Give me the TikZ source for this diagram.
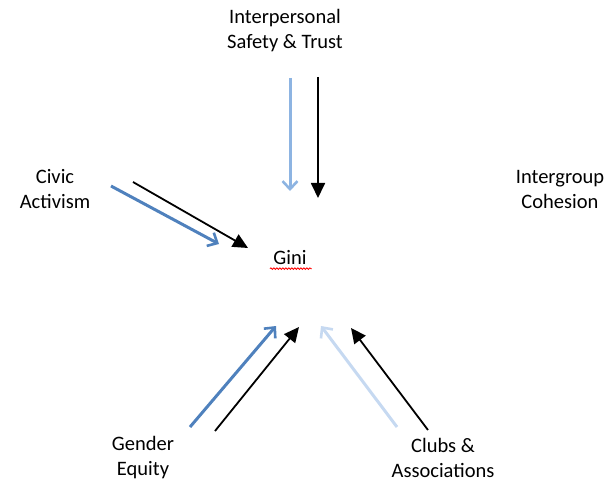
\documentclass[tikz,border=0pt]{standalone}
\usepackage{fontspec}
\setmainfont{Carlito}
\usetikzlibrary{arrows.meta, decorations.pathmorphing}

\definecolor{steelblue}{RGB}{79,129,189}
\definecolor{paleblue}{RGB}{141,180,226}
\definecolor{faintblue}{RGB}{198,217,241}

\begin{document}
\begin{tikzpicture}[x=1pt,y=-1pt,
  label node/.style={align=center,font=\fontsize{20.5}{25}\selectfont},
  dark arrow/.style={-{Triangle[length=15pt,width=14pt]},line width=1.8pt,black},
  soft arrow/.style={-{Straight Barb[length=8pt,width=15pt,line width=2.6pt]},line width=3pt}]
  \useasboundingbox (0,0) rectangle (608,484);
  % factors round the centre
  \node[label node] (trust) at (285,31) {Interpersonal\\Safety \& Trust};
  \node[label node] (civic) at (55,189) {Civic\\Activism};
  \node[label node] (cohesion) at (560,189) {Intergroup\\Cohesion};
  \node[label node] (gender) at (143,458) {Gender\\Equity};
  \node[label node] (clubs) at (443,458) {Clubs \&\\Associations};
  \node[label node] (gini) at (290,258) {Gini};
  \draw[red,line width=0.8pt,decorate,decoration={snake,amplitude=0.8pt,segment length=3pt}]
    (gini.south west) ++(0,0) coordinate (sq1) -- ++(42,0) coordinate (sq2);
  % arrow ends
  \coordinate (t1) at (290,78);  \coordinate (t2) at (290,191);
  \coordinate (t3) at (318,77);  \coordinate (t4) at (318,198);
  \coordinate (c1) at (111,186); \coordinate (c2) at (219,244);
  \coordinate (c3) at (133,182); \coordinate (c4) at (248,248);
  \coordinate (g1) at (190,427); \coordinate (g2) at (276,326);
  \coordinate (g3) at (215,431); \coordinate (g4) at (299,327);
  \coordinate (a1) at (397,427); \coordinate (a2) at (321,326);
  \coordinate (a3) at (428,430); \coordinate (a4) at (351,328);
  \draw[soft arrow,paleblue] (t1) -- (t2);
  \draw[dark arrow] (t3) -- (t4);
  \draw[soft arrow,steelblue] (c1) -- (c2);
  \draw[dark arrow] (c3) -- (c4);
  \draw[soft arrow,steelblue] (g1) -- (g2);
  \draw[dark arrow] (g3) -- (g4);
  \draw[soft arrow,faintblue] (a1) -- (a2);
  \draw[dark arrow] (a3) -- (a4);
\end{tikzpicture}
\end{document}
